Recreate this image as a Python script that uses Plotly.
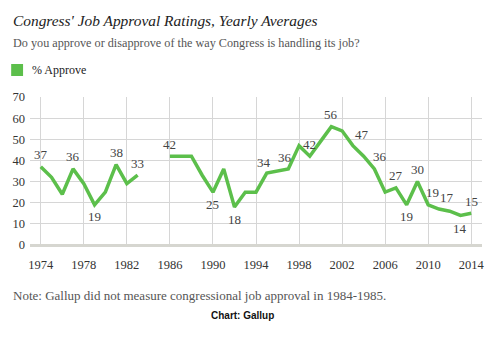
import plotly.graph_objects as go

years = list(range(1974, 2015))
approve = [37, 32, 24, 36, 29, 19, 25, 38, 29, 33,
           None, None,
           42, 42, 42, 33, 25, 36, 18, 25, 25, 34, 35, 36, 47, 42,
           49, 56, 54, 47, 42, 36, 25, 27, 19, 30, 19, 17, 16, 14, 15]

label_years = [1974, 1977, 1979, 1981, 1983, 1986, 1990, 1992, 1995, 1997,
               1999, 2001, 2003, 2005, 2007, 2008, 2009, 2010, 2011, 2013, 2014]

x_ticks = list(range(1974, 2015, 4))
y_ticks = [0, 10, 20, 30, 40, 50, 60, 70]

title = "Congress' Job Approval Ratings, Yearly Averages"
subtitle = "Do you approve or disapprove of the way Congress is handling its job?"
series_name = "% Approve"
note = "Note: Gallup did not measure congressional job approval in 1984-1985."
source = "Chart: Gallup"

GREEN = "#5cbf4b"
SERIF = "Georgia, 'Liberation Serif', serif"

# label placement (style): (xshift, yshift)
label_offsets = {
    1979: (0, -12), 1990: (0, -12), 1992: (0, -13), 2008: (0, -12), 2013: (0, -13),
    1995: (-3, 11), 1997: (-3, 11), 2003: (9, 11), 2005: (6, 12),
    2010: (4, 12), 2011: (8, 12),
}

fig = go.Figure()
fig.add_trace(go.Scatter(
    x=years, y=approve, mode="lines", name=series_name,
    line=dict(color=GREEN, width=3.5), connectgaps=False,
    showlegend=False, hoverinfo="x+y",
))

lookup = dict(zip(years, approve))
for yr in label_years:
    v = lookup[yr]
    dx, dy = label_offsets.get(yr, (0, 12))
    fig.add_annotation(
        x=yr, y=v, xref="x", yref="y", text=str(v), showarrow=False,
        xshift=dx, yshift=dy, font=dict(family=SERIF, size=13, color="#444"),
    )

L, R, T, B = 26, 15, 97, 92
W, H = 497, 337
pw, ph = W - L - R, H - T - B

def px_x(p):
    return (p - L) / pw

def px_y(p):
    return (H - B - p) / ph

fig.add_annotation(xref="paper", yref="paper", x=px_x(7), y=px_y(20), xanchor="left",
                   yanchor="middle", text=f"<i>{title}</i>", showarrow=False,
                   font=dict(family=SERIF, size=15.4, color="#222"))
fig.add_annotation(xref="paper", yref="paper", x=px_x(7), y=px_y(43), xanchor="left",
                   yanchor="middle", text=subtitle, showarrow=False,
                   font=dict(family=SERIF, size=12.2, color="#555"))
fig.add_shape(type="rect", xref="paper", yref="paper",
              x0=px_x(7), x1=px_x(19), y0=px_y(76), y1=px_y(64),
              fillcolor=GREEN, line=dict(width=0))
fig.add_annotation(xref="paper", yref="paper", x=px_x(26), y=px_y(70), xanchor="left",
                   yanchor="middle", text=series_name, showarrow=False,
                   font=dict(family=SERIF, size=12, color="#222"))
fig.add_annotation(xref="paper", yref="paper", x=px_x(7), y=px_y(295), xanchor="left",
                   yanchor="middle", text=note, showarrow=False,
                   font=dict(family=SERIF, size=13, color="#555"))
fig.add_annotation(xref="paper", yref="paper", x=px_x(240), y=px_y(315), xanchor="center",
                   yanchor="middle", text=f"<b>{source}</b>", showarrow=False,
                   font=dict(family="Arial, 'Liberation Sans', sans-serif", size=10, color="#111"))

fig.update_layout(
    width=W, height=H, margin=dict(l=L, r=R, t=T, b=B),
    paper_bgcolor="white", plot_bgcolor="white",
    xaxis=dict(range=[1973, 2015], tickmode="array", tickvals=x_ticks,
               showgrid=True, gridcolor="#d6d6d6", gridwidth=1, zeroline=False,
               showline=False, ticks="", ticklabelstandoff=10,
               tickfont=dict(family=SERIF, size=12.5, color="#333")),
    yaxis=dict(range=[0, 70], tickmode="array", tickvals=y_ticks,
               showgrid=True, gridcolor="#d6d6d6", gridwidth=1,
               zeroline=True, zerolinecolor="#d6d6d0", zerolinewidth=3,
               showline=False, ticks="", ticklabelstandoff=4,
               tickfont=dict(family=SERIF, size=12.5, color="#333")),
    showlegend=False,
)

fig.write_html("out.html")
